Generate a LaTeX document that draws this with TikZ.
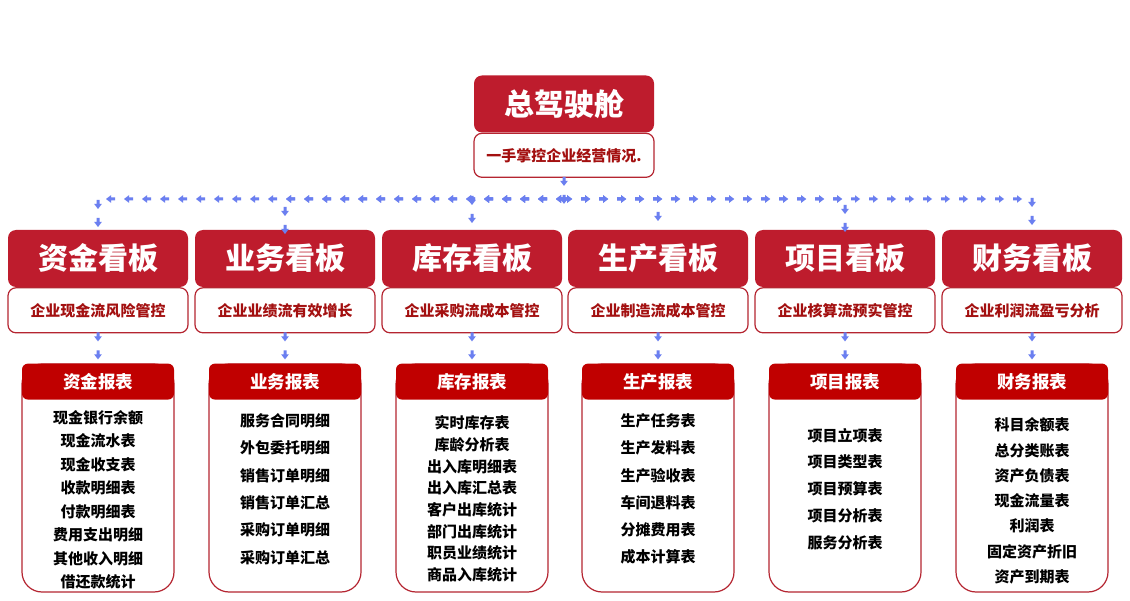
\documentclass[tikz,border=0pt]{standalone}
\usepackage{fontspec}
\usepackage{tikz}
\usetikzlibrary{positioning,decorations.markings}
\newfontfamily\cjk{Noto Sans CJK SC}
\definecolor{BoardRed}{HTML}{BE1C2D}
\definecolor{ReportRed}{HTML}{C00000}
\definecolor{EdgeRed}{HTML}{B52531}
\definecolor{TextRed}{HTML}{A31010}
\definecolor{FlowBlue}{HTML}{6B7FF0}

\begin{document}
\begin{tikzpicture}[x=1pt,y=-1pt,
  board/.style={fill=BoardRed,rounded corners=8pt,minimum width=180pt,minimum height=57pt,text=white,font=\cjk\bfseries\fontsize{30}{34}\selectfont},
  boardsub/.style={draw=EdgeRed,line width=1.2pt,fill=white,rounded corners=8pt,minimum width=180pt,minimum height=45pt,text=TextRed,font=\cjk\bfseries\fontsize{15}{18}\selectfont},
  repbody/.style={draw=EdgeRed,line width=1.2pt,fill=white,rounded corners=20pt,minimum width=152pt,minimum height=228pt},
  rephead/.style={fill=ReportRed,rounded corners=6pt,minimum width=152pt,minimum height=36pt,text=white,font=\cjk\bfseries\fontsize{17.5}{20}\selectfont},
  replist/.style={align=center,font=\cjk\bfseries\fontsize{15}{#1}\selectfont},
  flow/.style={postaction={decorate},decoration={markings,mark=between positions 3pt and 1 step 18pt with {\fill[FlowBlue] (-4pt,-1.5pt) rectangle (0pt,1.5pt) (0pt,-3.8pt) -- (5pt,0pt) -- (0pt,3.8pt) -- cycle;}}}]
  \useasboundingbox[fill=white] (0,0) rectangle (1130,601);
  % top
  \node[board] (cockpit) at (564,104) {总驾驶舱};
  \node[boardsub,minimum height=44pt,below=0pt of cockpit] (cockpitSub) {一手掌控企业经营情况.};
  \coordinate (hub) at (564,199);
  % boards
  \node[board] (zjBoard) at (98,258.5) {资金看板};
  \node[boardsub,below=0pt of zjBoard] (zjSub) {企业现金流风险管控};
  \node[board] (ywBoard) at (285,258.5) {业务看板};
  \node[boardsub,below=0pt of ywBoard] (ywSub) {企业业绩流有效增长};
  \node[board] (kcBoard) at (472,258.5) {库存看板};
  \node[boardsub,below=0pt of kcBoard] (kcSub) {企业采购流成本管控};
  \node[board] (scBoard) at (658,258.5) {生产看板};
  \node[boardsub,below=0pt of scBoard] (scSub) {企业制造流成本管控};
  \node[board] (xmBoard) at (845,258.5) {项目看板};
  \node[boardsub,below=0pt of xmBoard] (xmSub) {企业核算流预实管控};
  \node[board] (cwBoard) at (1032,258.5) {财务看板};
  \node[boardsub,below=0pt of cwBoard] (cwSub) {企业利润流盈亏分析};
  % reports
  \node[repbody] (zjBody) at (98,478) {};
  \node[rephead,below=0pt of zjBody.north] (zjHead) {资金报表};
  \node[replist=23.5] (zjList) at (98,500) {现金银行余额\\现金流水表\\现金收支表\\收款明细表\\付款明细表\\费用支出明细\\其他收入明细\\借还款统计};
  \node[repbody] (ywBody) at (285,478) {};
  \node[rephead,below=0pt of ywBody.north] (ywHead) {业务报表};
  \node[replist=27.4] (ywList) at (285,489) {服务合同明细\\外包委托明细\\销售订单明细\\销售订单汇总\\采购订单明细\\采购订单汇总};
  \node[repbody] (kcBody) at (472,478) {};
  \node[rephead,below=0pt of kcBody.north] (kcHead) {库存报表};
  \node[replist=21.7] (kcList) at (472,499) {实时库存表\\库龄分析表\\出入库明细表\\出入库汇总表\\客户出库统计\\部门出库统计\\职员业绩统计\\商品入库统计};
  \node[repbody] (scBody) at (658,478) {};
  \node[rephead,below=0pt of scBody.north] (scHead) {生产报表};
  \node[replist=27.2] (scList) at (658,489) {生产任务表\\生产发料表\\生产验收表\\车间退料表\\分摊费用表\\成本计算表};
  \node[repbody] (xmBody) at (845,478) {};
  \node[rephead,below=0pt of xmBody.north] (xmHead) {项目报表};
  \node[replist=26.8] (xmList) at (845,489) {项目立项表\\项目类型表\\项目预算表\\项目分析表\\服务分析表};
  \node[repbody] (cwBody) at (1032,478) {};
  \node[rephead,below=0pt of cwBody.north] (cwHead) {财务报表};
  \node[replist=25.3] (cwList) at (1032,501) {科目余额表\\总分类账表\\资产负债表\\现金流量表\\利润表\\固定资产折旧\\资产到期表};
  % connectors
  \path[flow] (cockpitSub.south) -- (hub);
  \path[flow] (hub) -| (zjBoard.north);
  \path[flow] (hub) -| (ywBoard.north);
  \path[flow] (hub) -| (kcBoard.north);
  \path[flow] (hub) -| (scBoard.north);
  \path[flow] (hub) -| (xmBoard.north);
  \path[flow] (hub) -| (cwBoard.north);
  \path[flow] (zjSub.south) -- (zjHead.north);
  \path[flow] (ywSub.south) -- (ywHead.north);
  \path[flow] (kcSub.south) -- (kcHead.north);
  \path[flow] (scSub.south) -- (scHead.north);
  \path[flow] (xmSub.south) -- (xmHead.north);
  \path[flow] (cwSub.south) -- (cwHead.north);
\end{tikzpicture}
\end{document}
